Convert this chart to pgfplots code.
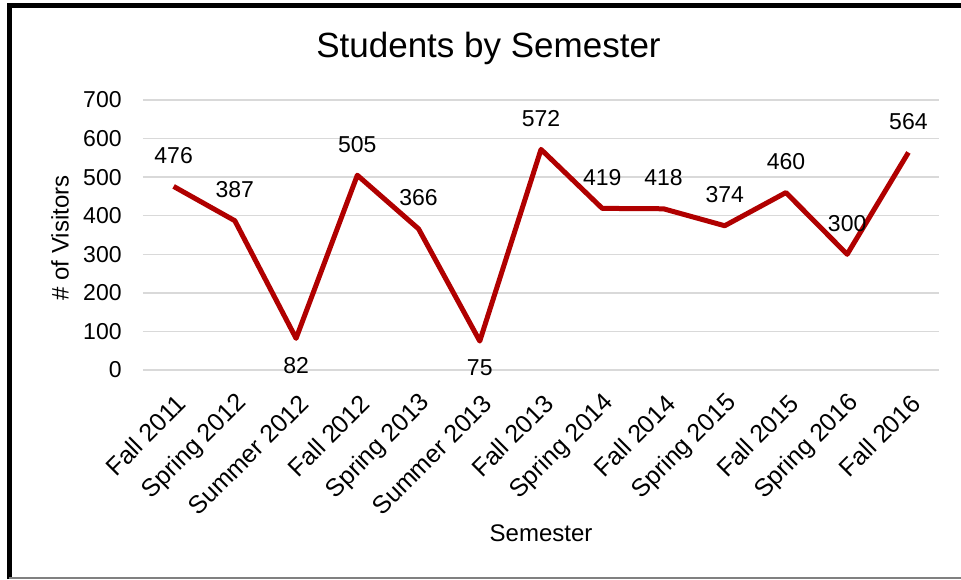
\documentclass[border=0pt]{standalone}
\usepackage{fontspec}
\setmainfont{Liberation Sans}
\usepackage{pgfplots}
\pgfplotsset{compat=1.18}
\definecolor{linered}{RGB}{176,0,0}
\definecolor{gridgray}{RGB}{217,217,217}
\begin{document}
\begin{tikzpicture}
\useasboundingbox (-71.5pt,-104.5pt) rectangle (409pt,185pt);
\begin{axis}[
  at={(0,0)}, anchor=south west,
  scale only axis, width=398pt, height=135pt,
  xmin=-0.5, xmax=12.5, ymin=0, ymax=700,
  axis line style={draw=none},
  major tick length=0pt,
  ytick={0,100,...,700},
  ymajorgrids, grid style={gridgray, line width=0.75pt},
  xtick={0,...,12},
  xticklabels={Fall 2011,Spring 2012,Summer 2012,Fall 2012,Spring 2013,Summer 2013,Fall 2013,Spring 2014,Fall 2014,Spring 2015,Fall 2015,Spring 2016,Fall 2016},
  xticklabel style={anchor=east, inner sep=0pt, xshift=4pt, yshift=-14.5pt, rotate=45, font=\fontsize{12.5}{14}\selectfont},
  yticklabel style={inner sep=0pt, xshift=-10.5pt, font=\fontsize{11.5}{13.8}\selectfont},
  /pgf/number format/assume math mode=true,
  xlabel={Semester},
  ylabel={\# of Visitors},
  x label style={at={(axis description cs:0.5,-0.6037)}, anchor=center, font=\fontsize{12}{14}\selectfont},
  y label style={at={(axis description cs:-0.1043,0.489)}, anchor=center, rotate=0, font=\fontsize{12}{14}\selectfont},
  clip=false,
]
\addplot[linered, line width=2.5pt, line join=round, mark=none] coordinates {
(0,476) (1,387) (2,82) (3,505) (4,366) (5,75) (6,572) (7,419) (8,418) (9,374) (10,460) (11,300) (12,564)};
\addplot[draw=none, mark=none, nodes near coords, point meta=explicit symbolic,
  every node near coord/.style={anchor=center, yshift=15.5pt, inner sep=0pt, font=\fontsize{11.5}{13.8}\selectfont}]
  coordinates {
(0,476) [476] (1,387) [387] (3,505) [505] (4,366) [366] (6,572) [572] (7,419) [419] (8,418) [418] (9,374) [374] (10,460) [460] (11,300) [300] (12,564) [564]};
\addplot[draw=none, mark=none, nodes near coords, point meta=explicit symbolic,
  every node near coord/.style={anchor=center, yshift=-13.5pt, inner sep=0pt, font=\fontsize{11.5}{13.8}\selectfont}]
  coordinates {(2,82) [82] (5,75) [75]};
\end{axis}
\node[font=\fontsize{17.5}{21}\selectfont] at (172.75pt,161pt) {Students by Semester};
\draw[black, line width=2.2pt] (-66.75pt,-104.5pt) -- (-66.75pt,182.15pt) -- (409pt,182.15pt);
\draw[gray, line width=0.75pt] (-66.75pt,-103.9pt) -- (409pt,-103.9pt);
\end{tikzpicture}
\end{document}
